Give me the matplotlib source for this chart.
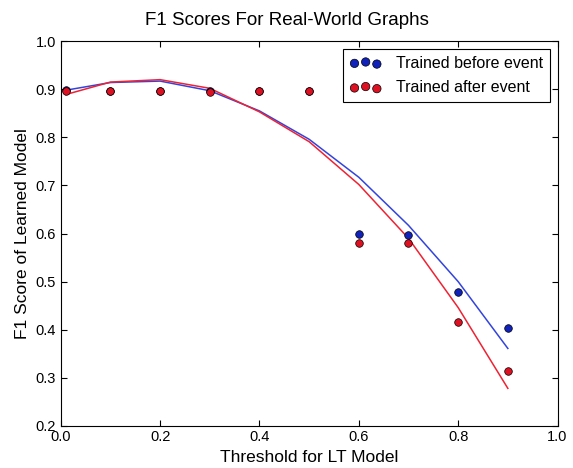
import matplotlib
matplotlib.use("Agg")
import matplotlib.pyplot as plt

plt.rcParams["font.family"] = ["Liberation Sans", "DejaVu Sans"]

thresholds = [0.01, 0.1, 0.2, 0.3, 0.4, 0.5, 0.6, 0.7, 0.8, 0.9]

# scatter: measured F1 scores
before_points = [0.899, 0.897, 0.897, 0.897, 0.897, 0.897, 0.598, 0.596, 0.478, 0.404]
after_points = [0.897, 0.897, 0.897, 0.895, 0.897, 0.897, 0.581, 0.581, 0.416, 0.315]

# lines: learned model fits
before_line = [0.898, 0.914, 0.917, 0.897, 0.855, 0.796, 0.717, 0.617, 0.500, 0.361]
after_line = [0.889, 0.915, 0.920, 0.902, 0.853, 0.791, 0.702, 0.590, 0.446, 0.278]

fig = plt.figure(figsize=(5.73, 4.68), dpi=100)
ax = fig.add_axes([0.106, 0.090, 0.867, 0.822])

ax.plot(thresholds, before_line, color="#3344dd", lw=1.1)
ax.plot(thresholds, after_line, color="#ee2233", lw=1.1)
ax.scatter(thresholds, before_points, s=30, c="#1122bb", edgecolors="black",
           linewidths=0.5, zorder=3, label="Trained before event")
ax.scatter(thresholds, after_points, s=30, c="#dd1122", edgecolors="black",
           linewidths=0.5, zorder=4, label="Trained after event")

ax.set_xlim(0.0, 1.0)
ax.set_ylim(0.2, 1.0)
ax.set_xticks([0.0, 0.2, 0.4, 0.6, 0.8, 1.0])
ax.set_yticks([0.2, 0.3, 0.4, 0.5, 0.6, 0.7, 0.8, 0.9, 1.0])
ax.xaxis.set_major_formatter(matplotlib.ticker.FormatStrFormatter("%.1f"))
ax.yaxis.set_major_formatter(matplotlib.ticker.FormatStrFormatter("%.1f"))
ax.tick_params(direction="in", top=True, right=True, length=4, labelsize=10.5)
ax.tick_params(axis="x", pad=3)

ax.set_xlabel("Threshold for LT Model", fontsize=12.5)
ax.set_ylabel("F1 Score of Learned Model", fontsize=12.5)
fig.suptitle("F1 Scores For Real-World Graphs", fontsize=13.5, y=0.975)

leg = ax.legend(loc="upper right", scatterpoints=3, fontsize=11.5, fancybox=False,
                edgecolor="black", framealpha=1, borderaxespad=0.5,
                labelspacing=0.6, handletextpad=0.9, markerscale=1.1)
leg.get_frame().set_linewidth(0.8)

fig.savefig("out.png", dpi=100)
